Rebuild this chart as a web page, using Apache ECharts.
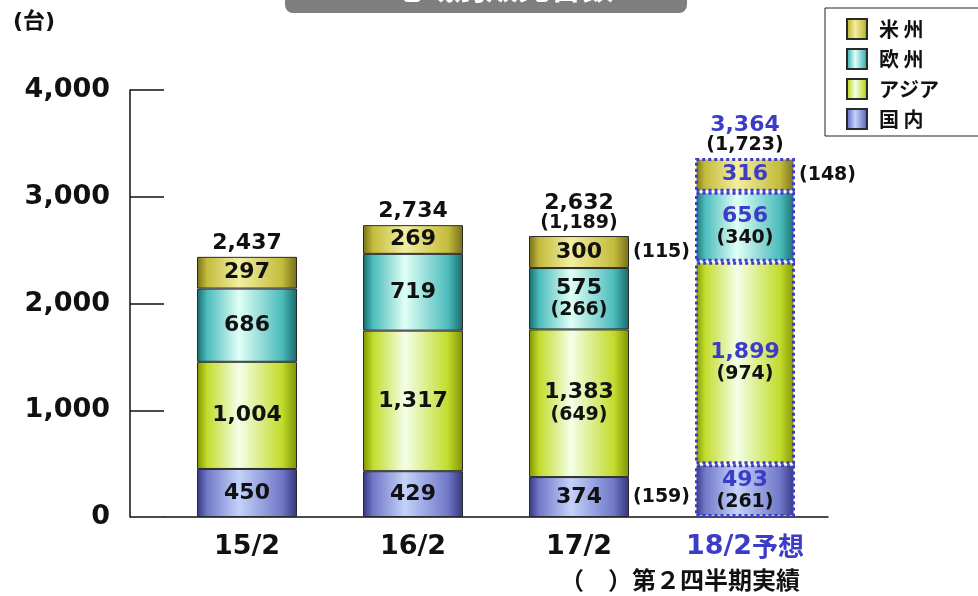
<!DOCTYPE html>
<html>
<head>
<meta charset="utf-8">
<script src="https://cdn.jsdelivr.net/npm/echarts@6/dist/echarts.min.js"></script>
<style>
  html, body { margin: 0; padding: 0; background: #fff; }
  #chart { width: 978px; height: 596px; }
</style>
</head>
<body>
<div id="chart"></div>
<script>
// 期（第２四半期）
var years = ["15/2", "16/2", "17/2", "18/2予想"];
// 地域別台数
var domestic = [450, 429, 374, 493];
var asia = [1004, 1317, 1383, 1899];
var europe = [686, 719, 575, 656];
var america = [297, 269, 300, 316];
var totals = [2437, 2734, 2632, 3364];
// （ ）第２四半期実績
var domesticQ2 = [null, null, 159, 261];
var asiaQ2 = [null, null, 649, 974];
var europeQ2 = [null, null, 266, 340];
var americaQ2 = [null, null, 115, 148];
var totalQ2 = [null, null, 1189, 1723];
var yTicks = [0, 1000, 2000, 3000, 4000];

var BLUE = "#3c3cc8";
var NUM_FONT = "DejaVu Sans";
var JP_FONT = "Noto Sans CJK JP";

function fmt(v) {
  return v.toLocaleString("en-US");
}

// 左右が暗く中央が明るいグラデーション
function bevel(dark, mid, light) {
  return new echarts.graphic.LinearGradient(0, 0, 1, 0, [
    { offset: 0, color: dark },
    { offset: 0.1, color: mid },
    { offset: 0.42, color: light },
    { offset: 0.85, color: mid },
    { offset: 1, color: dark }
  ]);
}

var rich = {
  v: { fontFamily: NUM_FONT, fontWeight: "bold", fontSize: 22, color: "#111", lineHeight: 23 },
  vb: { fontFamily: NUM_FONT, fontWeight: "bold", fontSize: 22, color: BLUE, lineHeight: 23 },
  p: { fontFamily: NUM_FONT, fontWeight: "bold", fontSize: 19, color: "#111", lineHeight: 21 }
};

// 予想の棒は青い点線で囲む
var forecastStyle = { borderColor: BLUE, borderType: "dotted", borderWidth: 3 };

function withForecast(vals) {
  return vals.map(function (v, i) {
    return i === 3 ? { value: v, itemStyle: forecastStyle } : v;
  });
}

function insideLabel(vals, q2, outside) {
  return {
    show: true,
    position: "inside",
    rich: rich,
    formatter: function (p) {
      var i = p.dataIndex;
      var s = (i === 3 ? "{vb|" : "{v|") + fmt(vals[i]) + "}";
      if (q2[i] != null && outside.indexOf(i) < 0) s += "\n{p|(" + fmt(q2[i]) + ")}";
      return s;
    }
  };
}

function mainSeries(name, vals, q2, outside, color) {
  return {
    name: name,
    type: "bar",
    stack: "main",
    barWidth: 100,
    barGap: "-100%",
    data: withForecast(vals),
    itemStyle: { color: color, borderColor: "#2a2a2a", borderWidth: 1 },
    label: insideLabel(vals, q2, outside),
    emphasis: { disabled: true }
  };
}

// 棒の右側に出す（ ）ラベル用の透明な棒
var ghostCount = 0;
function ghostSeries(vals, q2, outside) {
  ghostCount++;
  return {
    name: "ghost" + ghostCount,
    type: "bar",
    stack: "ghost",
    barWidth: 100,
    barGap: "-100%",
    data: vals,
    silent: true,
    itemStyle: { color: "rgba(0,0,0,0)", borderWidth: 0 },
    label: {
      show: true,
      position: "right",
      distance: 4,
      rich: rich,
      formatter: function (p) {
        var i = p.dataIndex;
        if (q2[i] == null || outside.indexOf(i) < 0) return "";
        return "{p|(" + fmt(q2[i]) + ")}";
      }
    }
  };
}

var chart = echarts.init(document.getElementById("chart"));
chart.setOption({
  animation: false,
  legend: {
    orient: "vertical",
    left: 825,
    top: 8,
    padding: [10, 90, 6, 21],
    icon: "rect",
    itemWidth: 20,
    itemHeight: 20,
    itemGap: 8,
    borderColor: "#222",
    borderWidth: 1,
    data: ["米 州", "欧 州", "アジア", "国 内"],
    textStyle: {
      fontFamily: JP_FONT, fontWeight: "bold", fontSize: 20, lineHeight: 20,
      color: "#111", padding: [0, 0, 0, 7]
    }
  },
  grid: { left: 164, right: 150, top: 90, bottom: 79 },
  xAxis: {
    type: "category",
    data: years,
    axisLine: { lineStyle: { color: "#111", width: 1.5 } },
    axisTick: { show: false },
    axisLabel: {
      margin: 16,
      rich: {
        a: { fontFamily: NUM_FONT, fontWeight: "bold", fontSize: 27, color: "#111" },
        b: { fontFamily: NUM_FONT, fontWeight: "bold", fontSize: 27, color: BLUE },
        c: { fontFamily: JP_FONT, fontWeight: "bold", fontSize: 26, color: BLUE }
      },
      formatter: function (v, i) {
        if (i === 3) return "{b|18/2}{c|予想}";
        return "{a|" + v + "}";
      }
    }
  },
  yAxis: {
    type: "value",
    min: yTicks[0],
    max: yTicks[yTicks.length - 1],
    interval: 1000,
    offset: 34,
    axisLine: { show: true, lineStyle: { color: "#111", width: 1.5 } },
    axisTick: { show: true, inside: true, length: 34, lineStyle: { color: "#111", width: 1.5 } },
    splitLine: { show: false },
    axisLabel: {
      margin: 20,
      fontFamily: NUM_FONT,
      fontWeight: "bold",
      fontSize: 27,
      color: "#111",
      formatter: function (v) { return fmt(v); }
    }
  },
  series: [
    mainSeries("国 内", domestic, domesticQ2, [2], bevel("#34367e", "#7078c8", "#c4d2fa")),
    mainSeries("アジア", asia, asiaQ2, [], bevel("#7e9200", "#c2dc2c", "#f4ffe8")),
    mainSeries("欧 州", europe, europeQ2, [], bevel("#186a6a", "#4cbcbc", "#e0fff6")),
    mainSeries("米 州", america, americaQ2, [2, 3], bevel("#746e18", "#c4bc3c", "#f2eea0")),
    {
      name: "合計",
      type: "bar",
      stack: "main",
      barWidth: 100,
      barGap: "-100%",
      data: totals.map(function () { return 0; }),
      silent: true,
      itemStyle: { color: "rgba(0,0,0,0)", borderWidth: 0 },
      label: {
        show: true,
        position: "top",
        distance: 3,
        rich: {
          v: { fontFamily: NUM_FONT, fontWeight: "bold", fontSize: 22, color: "#111", lineHeight: 21 },
          vb: { fontFamily: NUM_FONT, fontWeight: "bold", fontSize: 22, color: BLUE, lineHeight: 21 },
          p: { fontFamily: NUM_FONT, fontWeight: "bold", fontSize: 19, color: "#111", lineHeight: 19 }
        },
        formatter: function (p) {
          var i = p.dataIndex;
          var s = (i === 3 ? "{vb|" : "{v|") + fmt(totals[i]) + "}";
          if (totalQ2[i] != null) s += "\n{p|(" + fmt(totalQ2[i]) + ")}";
          return s;
        }
      }
    },
    ghostSeries(domestic, domesticQ2, [2]),
    ghostSeries(asia, asiaQ2, []),
    ghostSeries(europe, europeQ2, []),
    ghostSeries(america, americaQ2, [2, 3])
  ],
  graphic: [
    {
      type: "group",
      left: 285,
      top: -40,
      children: [
        { type: "rect", shape: { x: 0, y: 0, width: 402, height: 53, r: 8 }, style: { fill: "#7f7f7f" } },
        {
          type: "text",
          x: 201,
          y: 27,
          style: {
            text: "・地域別販売台数",
            fill: "#fff",
            font: "bold 32px 'Noto Sans CJK JP'",
            textAlign: "center",
            textVerticalAlign: "middle"
          }
        }
      ]
    },
    {
      type: "text",
      left: 13,
      top: 11,
      style: { text: "(台)", fill: "#111", font: "bold 22px 'DejaVu Sans', 'Noto Sans CJK JP'" }
    },
    {
      type: "text",
      left: 560,
      top: 568,
      style: { text: "（　）第２四半期実績", fill: "#111", font: "bold 24px 'Noto Sans CJK JP'" }
    }
  ]
});
</script>
</body>
</html>
